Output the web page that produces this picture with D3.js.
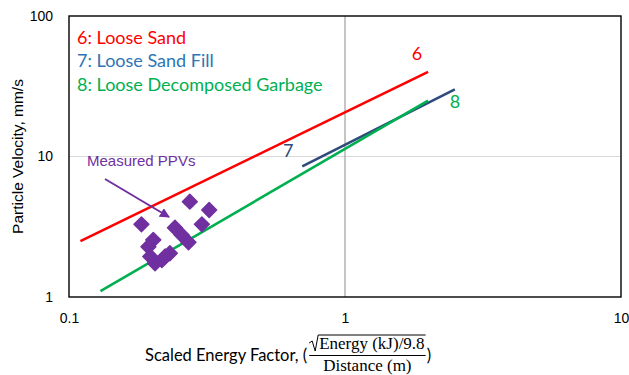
<!DOCTYPE html>
<html lang="en">
	<head>
		<meta charset="utf-8">
		<title>PPV vs scaled energy</title>
		<script src="https://cdn.jsdelivr.net/npm/d3@7"></script>
		<style type="text/css">
			body { margin: 0; background: #fff; }
			.axis text {
				font-family: "Liberation Sans", Arial, sans-serif;
				font-size: 14px;
				fill: #000;
			}
			.calib { font-family: Lato, "Open Sans", sans-serif; }
		</style>
	</head>
	<body>
		<script type="text/javascript">
			var w = 629;
			var h = 375;

			// tick values
			var xTicks = [0.1, 1, 10];
			var yTicks = [1, 10, 100];

			// attenuation lines (end points, x = scaled energy, y = ppv)
			var lineNames = ["6", "7", "8"];
			var legendLabels = ["6: Loose Sand", "7: Loose Sand Fill", "8: Loose Decomposed Garbage"];
			var lineX = [[0.11, 2.0], [0.70, 2.5], [0.13, 2.0]];
			var lineY = [[2.5, 40], [8.5, 30], [1.1, 25]];

			// measured PPVs
			var ppvX = [0.274, 0.322, 0.183, 0.303, 0.242, 0.256, 0.271, 0.202, 0.194, 0.197, 0.205, 0.217, 0.232, 0.223];
			var ppvY = [4.77, 4.16, 3.29, 3.29, 3.11, 2.76, 2.45, 2.55, 2.28, 1.94, 1.74, 1.83, 2.05, 1.94];

			var lineColors = ["#ff0000", "#2f4b7c", "#00b050"];
			var legendColors = ["#ff0000", "#2e75b6", "#00b050"];
			var purple = "#7030a0";

			var pL = 69, pR = 621, pT = 16, pB = 297;

			var svg = d3.select("body")
				.append("svg")
				.attr("width", w)
				.attr("height", h);

			var xScale = d3.scaleLog().domain([0.1, 10]).range([pL, pR]);
			var yScale = d3.scaleLog().domain([1, 100]).range([pB, pT]);

			// grid
			svg.append("line")
				.attr("x1", pL).attr("x2", pR)
				.attr("y1", yScale(10)).attr("y2", yScale(10))
				.attr("stroke", "#d9d9d9").attr("stroke-width", 1);
			svg.append("line")
				.attr("x1", xScale(1)).attr("x2", xScale(1))
				.attr("y1", pT).attr("y2", pB)
				.attr("stroke", "#8c8c8c").attr("stroke-width", 1);

			// axes
			var xAxis = d3.axisBottom(xScale)
				.tickValues(xTicks)
				.tickSize(0)
				.tickPadding(16)
				.tickFormat(d3.format("~g"));
			var yAxis = d3.axisLeft(yScale)
				.tickValues(yTicks)
				.tickSize(0)
				.tickPadding(16)
				.tickFormat(d3.format("~g"));

			svg.append("g")
				.attr("class", "axis")
				.attr("transform", "translate(0," + pB + ")")
				.call(xAxis)
				.call(function(g) { g.select(".domain").remove(); });
			svg.append("g")
				.attr("class", "axis")
				.attr("transform", "translate(" + pL + ",0)")
				.call(yAxis)
				.call(function(g) { g.select(".domain").remove(); });

			// frame
			svg.append("rect")
				.attr("x", pL).attr("y", pT)
				.attr("width", pR - pL).attr("height", pB - pT)
				.attr("fill", "none").attr("stroke", "#000").attr("stroke-width", 1.4);

			// lines
			var lineGen = d3.line()
				.x(function(d) { return xScale(d[0]); })
				.y(function(d) { return yScale(d[1]); });

			lineNames.forEach(function(name, i) {
				var pts = lineX[i].map(function(x, j) { return [x, lineY[i][j]]; });
				svg.append("path")
					.attr("d", lineGen(pts))
					.attr("fill", "none")
					.attr("stroke", lineColors[i])
					.attr("stroke-width", 2.6);
			});

			// line labels
			var labelPos = [[0, 1, 0, -12], [1, 0, -3, -9], [2, 1, 38, 7]];
			labelPos.forEach(function(p) {
				var i = p[0], j = p[1];
				svg.append("text")
					.attr("class", "calib")
					.attr("x", xScale(lineX[i][j]) + p[2] - 11)
					.attr("y", yScale(lineY[i][j]) + p[3])
					.attr("text-anchor", "middle")
					.attr("font-size", "18px")
					.attr("fill", i == 2 ? legendColors[2] : lineColors[i])
					.text(lineNames[i]);
			});

			// legend
			legendLabels.forEach(function(t, i) {
				svg.append("text")
					.attr("class", "calib")
					.attr("x", 77)
					.attr("y", 44 + i * 23.3)
					.attr("font-size", "18px")
					.attr("fill", legendColors[i])
					.text(t);
			});

			// measured points
			var ppv = ppvX.map(function(x, i) { return [x, ppvY[i]]; });
			svg.selectAll("path.ppv")
				.data(ppv)
				.enter()
				.append("path")
				.attr("class", "ppv")
				.attr("d", d3.symbol().type(d3.symbolDiamond2).size(140))
				.attr("transform", function(d) {
					return "translate(" + xScale(d[0]) + "," + yScale(d[1]) + ")";
				})
				.attr("fill", purple)
				.attr("stroke", purple)
				.attr("stroke-width", 1.5)
				.attr("stroke-linejoin", "round");

			// annotation
			svg.append("defs").append("marker")
				.attr("id", "arr")
				.attr("viewBox", "0 0 10 10")
				.attr("refX", 9).attr("refY", 5)
				.attr("markerWidth", 5).attr("markerHeight", 5)
				.attr("markerUnits", "strokeWidth")
				.attr("orient", "auto")
				.append("path")
				.attr("d", "M0,0L10,5L0,10z")
				.attr("fill", purple);
			svg.append("line")
				.attr("x1", 105).attr("y1", 179)
				.attr("x2", 169).attr("y2", 217)
				.attr("stroke", purple).attr("stroke-width", 2)
				.attr("marker-end", "url(#arr)");
			svg.append("text")
				.attr("x", 87).attr("y", 166)
				.attr("font-family", "'Liberation Sans', Arial, sans-serif")
				.attr("font-size", "15px")
				.attr("fill", purple)
				.text("Measured PPVs");

			// y title
			svg.append("text")
				.attr("transform", "translate(23," + ((pT + pB) / 2) + ") rotate(-90)")
				.attr("text-anchor", "middle")
				.attr("font-family", "'Liberation Sans', Arial, sans-serif")
				.attr("font-size", "15.5px")
				.text("Particle Velocity, mm/s");

			// x title with fraction
			var xt = svg.append("g");
			var main = xt.append("text")
				.attr("class", "calib")
				.attr("x", 145).attr("y", 361)
				.attr("font-size", "16.5px")
				.text("Scaled Energy Factor, (");
			var mx = 145 + main.node().getComputedTextLength() + 2;
			var serif = "'Liberation Serif', 'DejaVu Serif', serif";
			var num = xt.append("text")
				.attr("x", mx + 10).attr("y", 349)
				.attr("font-family", serif)
				.attr("font-size", "17px")
				.text("Energy (kJ)/9.8");
			var nw = num.node().getComputedTextLength();
			xt.append("path")
				.attr("d", "M" + mx + "," + 343 + "L" + (mx + 3) + "," + 341 + "L" + (mx + 6) + "," + 351 + "L" + (mx + 9) + "," + 335 + "L" + (mx + 11 + nw) + "," + 335)
				.attr("fill", "none").attr("stroke", "#000").attr("stroke-width", 1);
			xt.append("line")
				.attr("x1", mx).attr("x2", mx + 11 + nw)
				.attr("y1", 355.5).attr("y2", 355.5)
				.attr("stroke", "#000").attr("stroke-width", 1);
			xt.append("text")
				.attr("x", mx + (11 + nw) / 2).attr("y", 371)
				.attr("text-anchor", "middle")
				.attr("font-family", serif)
				.attr("font-size", "17px")
				.text("Distance (m)");
			xt.append("text")
				.attr("class", "calib")
				.attr("x", mx + 12 + nw).attr("y", 361)
				.attr("font-size", "16.5px")
				.text(")");
		</script>
	</body>
</html>
